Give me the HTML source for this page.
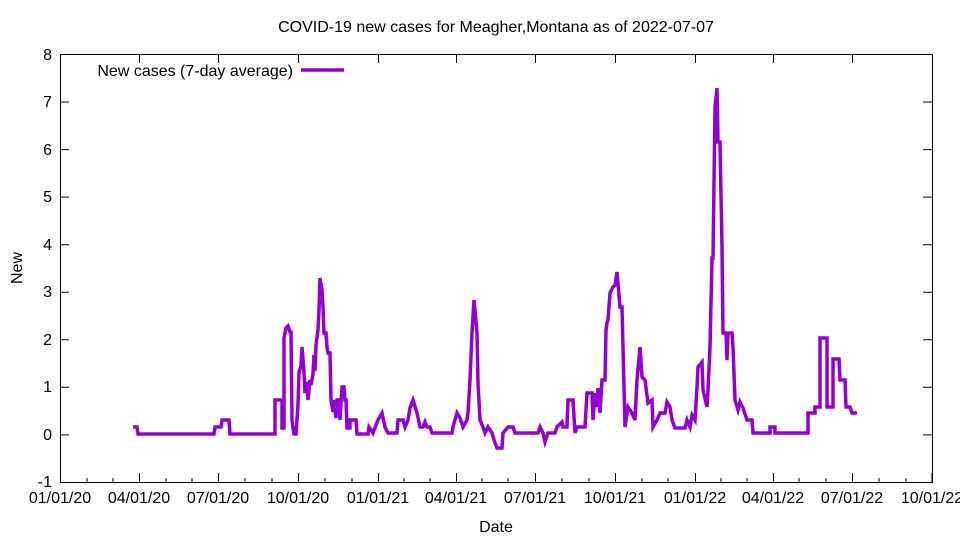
<!DOCTYPE html>
<html><head><meta charset="utf-8"><style>body{margin:0;background:#fff}svg{display:block}text{font-family:"Liberation Sans",sans-serif;font-size:16px;fill:#000}</style></head><body>
<svg width="960" height="540" xmlns="http://www.w3.org/2000/svg">
<rect x="60.5" y="54.5" width="872" height="428" fill="none" stroke="#000" stroke-width="1"/>
<g stroke="#000" stroke-width="1">
<path d="M60 54.5h9M60 102h9M60 149.6h9M60 197.1h9M60 244.7h9M60 292.2h9M60 339.8h9M60 387.3h9M60 434.9h9M932 54.5h-9M932 102h-9M932 149.6h-9M932 197.1h-9M932 244.7h-9M932 292.2h-9M932 339.8h-9M932 387.3h-9M932 434.9h-9"/>
<path d="M60.5 482v-9M139.5 482v-9M218.5 482v-9M298.5 482v-9M378.5 482v-9M456.5 482v-9M535.5 482v-9M615.5 482v-9M695.5 482v-9M773.5 482v-9M852.5 482v-9M932 482v-9M60.5 54v9M139.5 54v9M218.5 54v9M298.5 54v9M378.5 54v9M456.5 54v9M535.5 54v9M615.5 54v9M695.5 54v9M773.5 54v9M852.5 54v9"/>
<path d="M87 482v-4M113 482v-4M166 482v-4M192 482v-4M245 482v-4M272 482v-4M325 482v-4M352 482v-4M404 482v-4M430 482v-4M482 482v-4M508 482v-4M562 482v-4M589 482v-4M642 482v-4M668 482v-4M721 482v-4M747 482v-4M799 482v-4M826 482v-4M879 482v-4M906 482v-4"/>
</g>
<g text-anchor="end">
<text x="52" y="60">8</text><text x="52" y="107">7</text><text x="52" y="155">6</text><text x="52" y="202">5</text><text x="52" y="250">4</text><text x="52" y="297">3</text><text x="52" y="345">2</text><text x="52" y="392">1</text><text x="52" y="440">0</text><text x="52" y="487">-1</text>
</g>
<g text-anchor="middle">
<text x="60" y="503">01/01/20</text><text x="139" y="503">04/01/20</text><text x="218" y="503">07/01/20</text><text x="298" y="503">10/01/20</text><text x="378" y="503">01/01/21</text><text x="456" y="503">04/01/21</text><text x="535" y="503">07/01/21</text><text x="615" y="503">10/01/21</text><text x="695" y="503">01/01/22</text><text x="773" y="503">04/01/22</text><text x="852" y="503">07/01/22</text><text x="932" y="503">10/01/22</text>
<text x="496" y="532">Date</text>
<text x="496" y="32">COVID-19 new cases for Meagher,Montana as of 2022-07-07</text>
<text transform="translate(22,268) rotate(-90)">New</text>
</g>
<text x="293" y="76" text-anchor="end">New cases (7-day average)</text>
<path d="M301 70h43" stroke="#9400d3" stroke-width="3.5"/>
<polyline fill="none" stroke="#9400d3" stroke-width="3.5" stroke-linejoin="miter" points="133,427 137,427 138,434 214,434 215,427 221,427 222,420 229,420 230,434 275,434 275,400 282,400 282,428 284,428 284,338 286,328 288,326 290,332 291,332 292,420 293,428 294,434 296,434 298,405 299,372 301,366 302,347 304,372 305,393 307,382 308,400 310,380 311,385 313,374 314,355 315,371 316,345 318,330 319,310 320,278 322,290 323,307 324,333 326,333 327,347 328,353 330,353 331,400 333,412 334,400 336,418 337,400 339,400 340,420 342,387 344,387 345,400 346,400 347,428 350,428 350,420 356,420 357,434 368,434 369,427 373,433 378,420 382,413 385,427 388,433 397,433 398,420 403,420 405,427 408,420 410,408 413,400 417,413 420,427 423,427 425,422 427,427 430,427 432,433 452,433 453,427 457,413 460,418 463,427 467,420 468,413 470,380 472,333 474,300 477,333 478,383 480,420 483,427 485,433 488,427 492,433 495,443 497,448 502,448 503,433 508,427 513,427 515,433 538,433 540,427 543,433 545,442 548,433 555,433 557,427 562,422 563,427 567,427 568,400 573,400 575,433 577,427 585,427 587,393 592,393 593,420 595,393 597,407 598,388 600,413 602,380 605,380 606,330 607,323 608,320 610,293 613,287 615,285 617,272 620,307 622,307 625,427 628,407 632,413 635,420 637,380 640,347 642,377 645,380 648,403 652,400 653,427 657,420 660,413 665,413 667,402 670,407 672,420 675,428 685,428 687,420 690,427 692,415 695,420 697,387 698,367 702,362 703,390 707,407 708,390 710,347 712,258 713,258 715,107 717,88 718,142 720,142 722,247 723,333 726,333 727,360 728,333 732,333 733,347 735,400 738,410 740,402 743,408 747,420 752,420 753,433 770,433 770,427 775,427 775,433 808,433 808,413 815,413 815,407 820,407 820,338 827,338 827,407 833,407 833,359 839,359 840,380 845,380 846,407 850,407 852,413 857,413"/>
</svg>
</body></html>
